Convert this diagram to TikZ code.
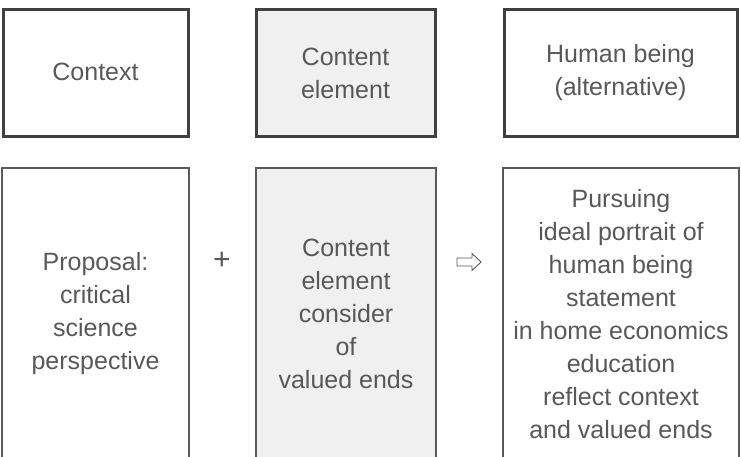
\documentclass[tikz,border=0pt]{standalone}
\usepackage{fontspec}
\setmainfont{Liberation Sans}
\definecolor{txt}{HTML}{585858}
\definecolor{frame}{HTML}{404040}
\definecolor{thinframe}{HTML}{5A5A5A}
\definecolor{shade}{HTML}{F0F0F0}
\begin{document}
\begin{tikzpicture}[x=1pt,y=-1pt,
  lbl/.style={text=txt,font=\fontsize{25}{33}\selectfont,align=center,inner sep=0pt},
  topbox/.style={draw=frame,line width=3pt},
  lowbox/.style={draw=thinframe,line width=1.3pt}]
\useasboundingbox (0,0) rectangle (741,456);
\begin{scope}
\clip (0,0) rectangle (741,456);
% top row
\draw[topbox] (3,9) rectangle (188,136);
\draw[topbox,fill=shade] (256,9) rectangle (435,136);
\draw[topbox] (504,9) rectangle (737,136);
% bottom row
\draw[lowbox] (2,168) rectangle (189,470);
\draw[lowbox,fill=shade] (256,168) rectangle (436,470);
\draw[lowbox] (503,168) rectangle (739,470);
\end{scope}
\node[lbl] (ctx) at (95.5,72) {Context};
\node[lbl] (ce) at (345.5,73) {Content\\element};
\node[lbl] (hb) at (620.5,73) {Human being\\(alternative)};
\node[lbl] (prop) at (95.5,314) {Proposal:\\critical\\science\\perspective};
\node[lbl] (cev) at (346,314) {Content\\element\\consider\\of\\valued ends};
\node[lbl] (pur) at (621,314) {Pursuing\\ideal portrait of\\human being\\statement\\in home economics\\education\\reflect context\\and valued ends};
\node[lbl,font=\fontsize{30}{33}\selectfont] (plus) at (222,261) {+};
\draw[txt,line width=0.9pt,line join=miter]
  (457,258) -- (472,258) -- (472,253.5) -- (481,262) -- (472,270.5) -- (472,266) -- (457,266) -- cycle;
\end{tikzpicture}
\end{document}
